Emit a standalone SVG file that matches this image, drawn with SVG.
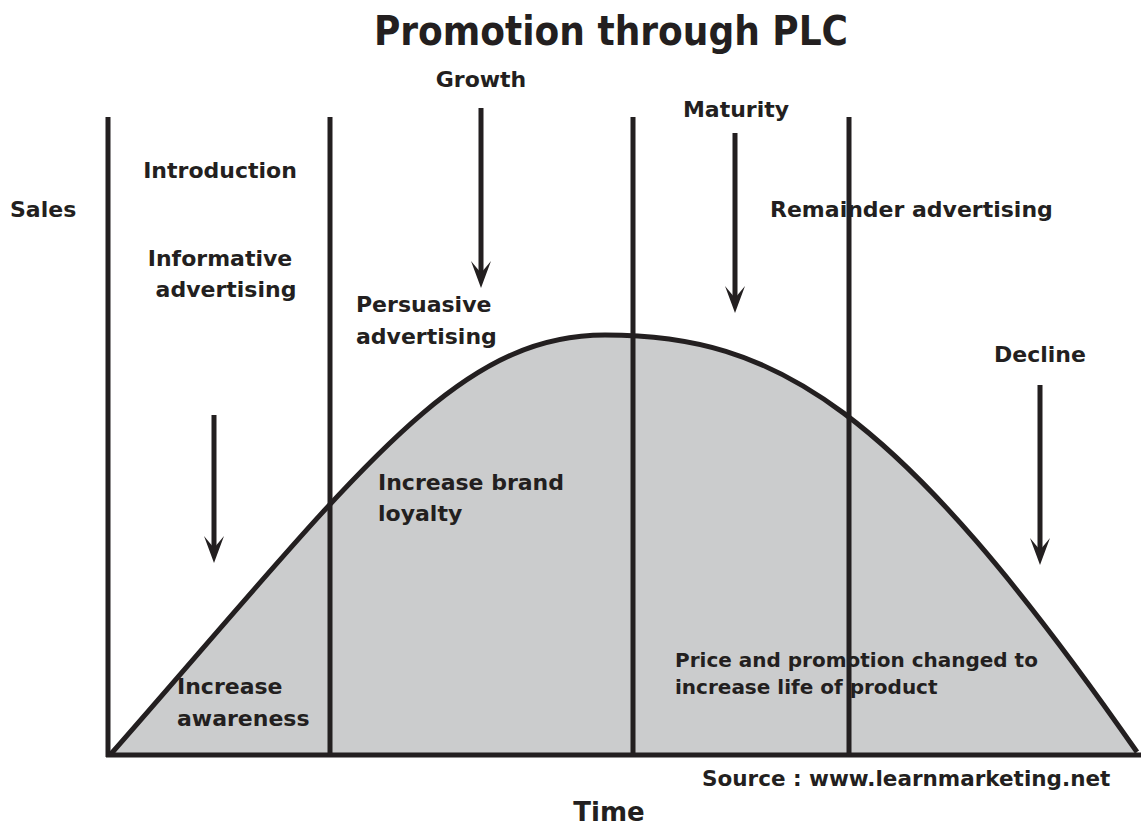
<svg xmlns="http://www.w3.org/2000/svg" width="1141" height="828" viewBox="0 0 1141 828">
<style>
.t{font-family:"DejaVu Sans","Liberation Sans",sans-serif;font-weight:bold;font-size:22px;fill:#231f20}
.ln{stroke:#231f20;stroke-width:5;fill:none}
.ar{stroke:#231f20;stroke-width:5;fill:none}
</style>
<defs>
<marker id="ah" viewBox="0 -11 28 22" markerWidth="28" markerHeight="22" refX="12" refY="0" orient="auto" markerUnits="userSpaceOnUse">
<path d="M27,0 L0,-10 L12,0 L0,10 Z" fill="#231f20"/>
</marker>
</defs>
<rect width="1141" height="828" fill="#fff"/>
<g id="curve">
<path d="M110,755 C360,470 455,335 605,335 C775,335 895,405 1137,752 L1137,755 L110,755 Z" fill="#cbcccd"/>
<path d="M110,755 C360,470 455,335 605,335 C775,335 895,405 1137,752" class="ln"/>
</g>
<g id="axes">
<line x1="108" y1="117" x2="108" y2="757" class="ln"/>
<line x1="106" y1="755" x2="1141" y2="755" class="ln"/>
<line x1="330" y1="117" x2="330" y2="757" class="ln"/>
<line x1="633" y1="117" x2="633" y2="757" class="ln"/>
<line x1="849" y1="117" x2="849" y2="757" class="ln"/>
</g>
<g id="connectors">
<line x1="214" y1="415" x2="214" y2="548" class="ar" marker-end="url(#ah)"/>
<line x1="481" y1="108" x2="481" y2="273" class="ar" marker-end="url(#ah)"/>
<line x1="735" y1="133" x2="735" y2="298" class="ar" marker-end="url(#ah)"/>
<line x1="1040" y1="385" x2="1040" y2="550" class="ar" marker-end="url(#ah)"/>
</g>
<g id="title"><text x="611" y="45" text-anchor="middle" class="t" style="font-family:'DejaVu Sans Condensed','DejaVu Sans',sans-serif;font-stretch:condensed;font-size:40px">Promotion through PLC</text></g>
<g id="sales"><text x="10" y="217" class="t">Sales</text></g>
<g id="introduction">
<text x="220" y="178" text-anchor="middle" class="t">Introduction</text>
<text x="220" y="266" text-anchor="middle" class="t">Informative</text>
<text x="226" y="297" text-anchor="middle" class="t">advertising</text>
</g>
<g id="growth">
<text x="481" y="87" text-anchor="middle" class="t">Growth</text>
<text x="356" y="312" class="t">Persuasive</text>
<text x="356" y="344" class="t">advertising</text>
</g>
<g id="maturity">
<text x="736" y="117" text-anchor="middle" class="t">Maturity</text>
<text x="770" y="217" class="t">Remainder advertising</text>
</g>
<g id="decline"><text x="1040" y="362" text-anchor="middle" class="t">Decline</text></g>
<g id="loyalty">
<text x="378" y="490" class="t">Increase brand</text>
<text x="378" y="521" class="t">loyalty</text>
</g>
<g id="awareness">
<text x="177" y="694" class="t">Increase</text>
<text x="177" y="726" class="t">awareness</text>
</g>
<g id="price">
<text x="675" y="667" class="t" style="font-size:20px">Price and promotion changed to</text>
<text x="675" y="694" class="t" style="font-size:20px">increase life of product</text>
</g>
<g id="source"><text x="702" y="786" class="t" style="font-size:21.5px">Source : www.learnmarketing.net</text></g>
<g id="time"><text x="609" y="821" text-anchor="middle" class="t" style="font-size:26px">Time</text></g>
</svg>
